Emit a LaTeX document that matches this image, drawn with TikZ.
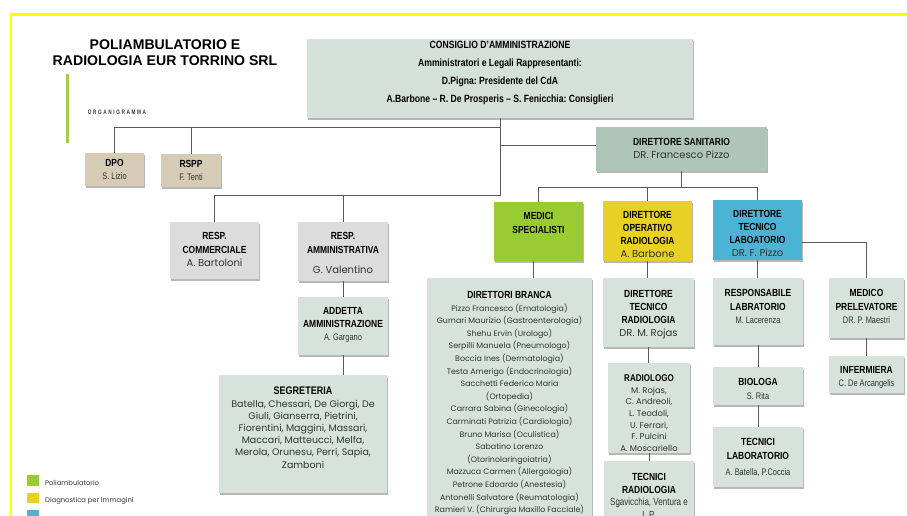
\documentclass[tikz,border=0pt]{standalone}
\usepackage{fontspec}
\setmainfont{Liberation Sans}
\newfontfamily\cond[FakeStretch=0.82,Ligatures=TeX]{Liberation Sans}
\newfontfamily\condn[FakeStretch=0.78,Ligatures=TeX]{Liberation Sans}
\newfontfamily\geo{Poppins}
\newfontfamily\orgf[FakeStretch=0.72,LetterSpace=25]{Liberation Sans}
\usetikzlibrary{shadows,fit}
\definecolor{ccouncil}{HTML}{D6E0DA}
\definecolor{cds}{HTML}{AFC5B9}
\definecolor{cgray}{HTML}{DCDCDC}
\definecolor{cbeige}{HTML}{D6CCB6}
\definecolor{clight}{HTML}{D7E2DC}
\definecolor{cgreen}{HTML}{99CC33}
\definecolor{cyel}{HTML}{E8D024}
\definecolor{cblue}{HTML}{4BB3D4}
\definecolor{cbar}{HTML}{A4CD4C}
\definecolor{cborder}{HTML}{FFFF00}
\definecolor{namec}{HTML}{333333}
\definecolor{linec}{HTML}{5A5A5A}
\frenchspacing
\newcommand\hd{\cond\bfseries\fontsize{10.3}{12}\selectfont\color{black}}
\newcommand\nmg{\geo\fontsize{10}{12}\selectfont\color{namec}}
\newcommand\nmc{\condn\fontsize{9.5}{12}\selectfont\color{namec}}
\newcommand\sg{\geo\fontsize{9.5}{12}\selectfont\color{namec}}
\newcommand\dbn{\geo\fontsize{7.9}{12}\selectfont\color{namec}}
\newcommand\rdn{\geo\fontsize{8.4}{12}\selectfont\color{namec}}
\newcommand\obox[6]{\node[box, fill=#6, fit={(#2,#3) (#4,#5)}] (#1) {};}
\newcommand\otext[5][]{\node[txt, anchor=north, #1] (t#2) at (#3,#4) {#5};}
\begin{document}
\begin{tikzpicture}[x=1pt,y=-1pt,
  box/.style={draw=none, inner sep=0pt, rectangle,
    drop shadow={shadow xshift=1.2pt, shadow yshift=-1.8pt, opacity=0.4, fill=black!70}},
  txt/.style={inner sep=0pt, align=center, font=\fontsize{10}{13}\selectfont},
  conn/.style={draw=linec, line width=0.9pt}]
\useasboundingbox (0,0) rectangle (907,516);
\fill[white] (0,0) rectangle (907,516);
% frame
\draw[cborder, line width=2.5pt] (11,520) -- (11,14.5) -- (910,14.5);
\fill[cbar] (66,74) rectangle (69,143);
\node[inner sep=0pt, anchor=north, align=center, font=\bfseries\fontsize{14.1}{15.5}\selectfont] (title) at (165,39.5) {POLIAMBULATORIO E\\RADIOLOGIA EUR TORRINO SRL};
\node[inner sep=0pt, font=\orgf\bfseries\fontsize{6.5}{8}\selectfont, text=black!80] (org) at (117,112) {ORGANIGRAMMA};

% boxes
\obox{council}{307}{39}{693}{118}{ccouncil}
\obox{dpo}{85}{153}{144}{186}{cbeige}
\obox{rspp}{161}{154}{221}{187}{cbeige}
\obox{ds}{596}{127}{767}{171}{cds}
\obox{rc}{170}{222}{259}{279}{cgray}
\obox{ra}{298}{222}{388}{281}{cgray}
\obox{add}{298}{297}{388}{355}{clight}
\obox{seg}{219}{375}{387}{493}{clight}
\obox{med}{494}{202}{583}{261}{cgreen}
\obox{dirop}{603}{201}{692}{261}{cyel}
\obox{dtl}{713}{200}{802}{260}{cblue}
\obox{db}{427}{278}{592}{540}{clight}
\obox{dtr}{603}{278}{694}{347}{clight}
\obox{rad}{608}{363}{690}{453}{clight}
\obox{tr}{604}{461}{694}{540}{clight}
\obox{rl}{713}{278}{803}{345}{clight}
\obox{bio}{713}{367}{803}{405}{clight}
\obox{tl}{713}{427}{803}{487}{clight}
\obox{mp}{829}{278}{904}{338}{clight}
\obox{inf}{829}{356}{904}{393}{clight}

% connectors
\draw[conn] (council.south) -- ++(0,9) -| (dpo.north);
\draw[conn] (council.south) -- ++(0,9) -| (rspp.north);
\draw[conn] (council.south) |- ([yshift=4pt]ds.west);
\draw[conn] (council.south) -- ++(0,77) -| (rc.north);
\draw[conn] (council.south) -- ++(0,77) -| (ra.north);
\draw[conn] (ds.south) -- ++(0,16) -| (med.north);
\draw[conn] (ds.south) -- ++(0,16) -| (dirop.north);
\draw[conn] (ds.south) -- ++(0,16) -| (dtl.north);
\draw[conn] ([yshift=-12pt]dtl.east) -| (mp.north);
\draw[conn] ([xshift=-5pt]med.south) -- ([xshift=-5pt]med.south |- db.north);
\draw[conn] (dirop.south) -- (dirop.south |- dtr.north);
\draw[conn] (dtr.south) -- (dtr.south |- rad.north);
\draw[conn] (rad.south) -- (rad.south |- tr.north);
\draw[conn] (dtl.south) -- (dtl.south |- rl.north);
\draw[conn] (rl.south) -- (rl.south |- bio.north);
\draw[conn] (bio.south) -- (bio.south |- tl.north);
\draw[conn] (mp.south) -- (mp.south |- inf.north);
\draw[conn] (ra.south) -- (ra.south |- add.north);
\draw[conn] (add.south) -- (add.south |- seg.north);

% texts
\otext[font=\cond\bfseries\fontsize{10.5}{17.8}\selectfont]{council}{500}{41.2}{CONSIGLIO D'AMMINISTRAZIONE\\Amministratori e Legali Rappresentanti:\\D.Pigna: Presidente del CdA\\A.Barbone – R. De Prosperis – S. Fenicchia: Consiglieri}
\otext{dpo}{114.5}{159.2}{{\hd DPO}\\{\nmc S. Lizio}}
\otext{rspp}{191}{160.2}{{\hd RSPP}\\{\nmc F. Tenti}}
\otext{ds}{681.5}{138.2}{{\hd DIRETTORE SANITARIO}\\{\nmg DR. Francesco Pizzo}}
\otext[font=\fontsize{10}{13.5}\selectfont]{rc}{214.5}{232.2}{{\hd RESP.}\\{\hd COMMERCIALE}\\{\nmg A. Bartoloni}}
\otext[font=\fontsize{10}{14}\selectfont]{ra}{343}{232.2}{{\hd RESP.}\\{\hd AMMINISTRATIVA}\\[6pt]{\nmg G. Valentino}}
\otext[font=\fontsize{10}{13}\selectfont]{add}{343}{307.2}{{\hd ADDETTA}\\{\hd AMMINISTRAZIONE}\\{\nmc A. Gargano}}
\otext[font=\fontsize{10}{12.2}\selectfont]{seg}{303}{387}{{\hd\fontsize{11}{12}\selectfont SEGRETERIA}\\{\sg Batella, Chessari, De Giorgi, De}\\{\sg Giuli, Gianserra, Pietrini,}\\{\sg Fiorentini, Maggini, Massari,}\\{\sg Maccari, Matteucci, Melfa,}\\{\sg Merola, Orunesu, Perri, Sapia,}\\{\sg Zamboni}}
\otext[font=\fontsize{10}{14}\selectfont]{med}{538.5}{212.2}{{\hd MEDICI}\\{\hd SPECIALISTI}}
\otext{dirop}{647.5}{211.2}{{\hd DIRETTORE}\\{\hd OPERATIVO}\\{\hd RADIOLOGIA}\\{\nmg A. Barbone}}
\otext{dtl}{757.5}{210.2}{{\hd DIRETTORE}\\{\hd TECNICO}\\{\hd LABOATORIO}\\{\nmg DR. F. Pizzo}}
\otext[font=\fontsize{10}{12.6}\selectfont]{db}{509.5}{291.2}{{\hd DIRETTORI BRANCA}\\
{\dbn Pizzo Francesco (Ematologia)}\\
{\dbn Gurnari Maurizio (Gastroenterologia)}\\
{\dbn Shehu Ervin (Urologo)}\\
{\dbn Serpilli Manuela (Pneumologo)}\\
{\dbn Boccia Ines (Dermatologia)}\\
{\dbn Testa Amerigo (Endocrinologia)}\\
{\dbn Sacchetti Federico Maria}\\
{\dbn (Ortopedia)}\\
{\dbn Carrara Sabina (Ginecologia)}\\
{\dbn Carminati Patrizia (Cardiologia)}\\
{\dbn Bruno Marisa (Oculistica)}\\
{\dbn Sabatino Lorenzo}\\
{\dbn (Otorinolaringoiatria)}\\
{\dbn Mazzuca Carmen (Allergologia)}\\
{\dbn Petrone Edoardo (Anestesia)}\\
{\dbn Antonelli Salvatore (Reumatologia)}\\
{\dbn Ramieri V. (Chirurgia Maxillo Facciale)}}
\otext[font=\fontsize{10}{13}\selectfont]{dtr}{648.5}{290.2}{{\hd DIRETTORE}\\{\hd TECNICO}\\{\hd RADIOLOGIA}\\{\nmg DR. M. Rojas}}
\otext[font=\fontsize{10}{11.6}\selectfont]{rad}{649}{374.6}{{\hd\fontsize{9.8}{12}\selectfont RADIOLOGO}\\
{\rdn M. Rojas,}\\
{\rdn C. Andreoli,}\\
{\rdn L. Teodoli,}\\
{\rdn U. Ferrari,}\\
{\rdn F. Pulcini}\\
{\rdn A. Moscariello}}
\otext[font=\fontsize{10}{12.5}\selectfont]{tr}{649}{473.2}{{\hd TECNICI}\\{\hd RADIOLOGIA}\\{\nmc\fontsize{10.3}{12}\selectfont Sgavicchia, Ventura e}\\{\nmc\fontsize{10.3}{12}\selectfont L.P.}}
\otext[font=\fontsize{10}{13.5}\selectfont]{rl}{758}{289.2}{{\hd RESPONSABILE}\\{\hd LABRATORIO}\\{\nmc M. Lacerenza}}
\otext[font=\fontsize{10}{14}\selectfont]{bio}{758}{378.2}{{\hd BIOLOGA}\\{\nmc S. Rita}}
\otext[font=\fontsize{10}{13.5}\selectfont]{tl}{758}{438.2}{{\hd TECNICI}\\{\hd LABORATORIO}\\[3pt]{\nmc A. Batella, P.Coccia}}
\otext[font=\fontsize{10}{13.5}\selectfont]{mp}{866.5}{289.2}{{\hd MEDICO}\\{\hd PRELEVATORE}\\{\nmc DR. P. Maestri}}
\otext[font=\fontsize{10}{13}\selectfont]{inf}{866.5}{366.2}{{\hd INFERMIERA}\\{\nmc C. De Arcangelis}}

% legend
\fill[cgreen] (27,475) rectangle (39,486);
\fill[cyel] (27,493) rectangle (39,503);
\fill[cblue] (27,510) rectangle (39,521);
\node[inner sep=0pt, anchor=west, font=\geo\fontsize{6.8}{8}\selectfont, text=namec] (lg1) at (45,483) {Poliambulatorio};
\node[inner sep=0pt, anchor=west, font=\geo\fontsize{6.8}{8}\selectfont, text=namec] (lg2) at (45,501) {Diagnostica per Immagini};
\node[inner sep=0pt, anchor=west, font=\geo\fontsize{6.8}{8}\selectfont, text=namec] (lg3) at (45,519) {Laboratorio};
\end{tikzpicture}
\end{document}
